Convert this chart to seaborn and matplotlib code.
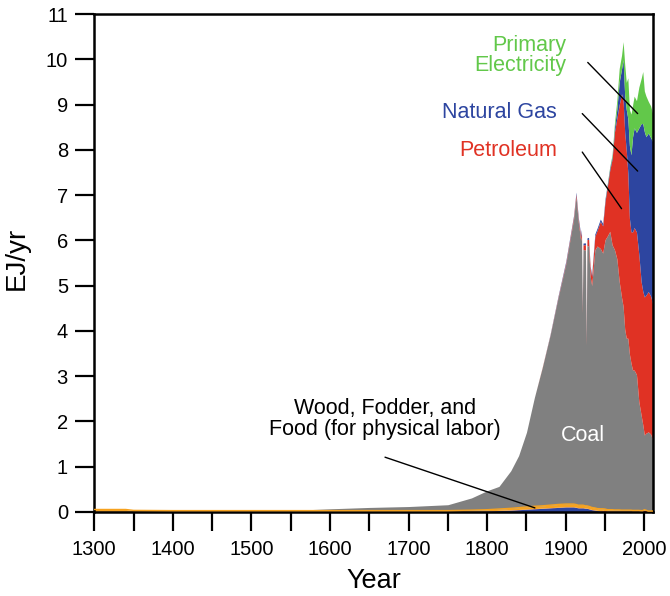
import numpy as np
import pandas as pd
import matplotlib
matplotlib.use("Agg")
import matplotlib.pyplot as plt
import seaborn as sns
from matplotlib.ticker import MultipleLocator

# ---------------- data (EJ/yr) ----------------
years = [1300, 1340, 1350, 1400, 1450, 1500, 1550, 1600, 1650, 1700,
         1750, 1780, 1800, 1815, 1830, 1840, 1850, 1860, 1870, 1880,
         1890, 1900, 1905, 1910, 1913, 1916, 1919, 1920, 1921, 1922,
         1925, 1926, 1927, 1929, 1931, 1933, 1937, 1940, 1944, 1947,
         1950, 1953, 1956, 1959, 1962, 1965, 1968, 1971, 1973, 1975,
         1977, 1979, 1981, 1983, 1985, 1987, 1990, 1993, 1996, 1998,
         2000, 2002, 2005, 2008, 2011]

fodder = [0.01, 0.01, 0.01, 0.01, 0.01, 0.01, 0.01, 0.01, 0.01, 0.01,
          0.01, 0.015, 0.02, 0.03, 0.04, 0.05, 0.06, 0.07, 0.08, 0.09,
          0.10, 0.11, 0.11, 0.11, 0.10, 0.09, 0.09, 0.09, 0.09, 0.09,
          0.08, 0.08, 0.08, 0.07, 0.06, 0.05, 0.04, 0.03, 0.02, 0.02,
          0.01, 0, 0, 0, 0, 0, 0, 0, 0, 0,
          0, 0, 0, 0, 0, 0, 0, 0, 0, 0,
          0, 0, 0, 0, 0]

wood = [0.005, 0.005, 0.005, 0.005, 0.005, 0.005, 0.005, 0.005, 0.005, 0.005,
        0.005, 0.005, 0.005, 0.005, 0.005, 0.005, 0.005, 0.005, 0.005, 0.005,
        0.005, 0.005, 0.005, 0.005, 0.005, 0.005, 0.005, 0.005, 0.005, 0.005,
        0.005, 0.005, 0.005, 0.005, 0.005, 0.005, 0.005, 0.005, 0.01, 0.015,
        0.02, 0.02, 0.02, 0.02, 0.02, 0.02, 0.02, 0.02, 0.02, 0.02,
        0.02, 0.02, 0.02, 0.02, 0.02, 0.02, 0.02, 0.02, 0.02, 0.02,
        0.04, 0.03, 0.01, 0.01, 0.01]

food = [0.04, 0.04, 0.02, 0.015, 0.015, 0.015, 0.015, 0.015, 0.015, 0.015,
        0.015, 0.02, 0.025, 0.03, 0.035, 0.04, 0.045, 0.05, 0.05, 0.055,
        0.06, 0.06, 0.06, 0.06, 0.06, 0.055, 0.055, 0.055, 0.055, 0.055,
        0.05, 0.05, 0.05, 0.05, 0.05, 0.045, 0.045, 0.04, 0.04, 0.035,
        0.035, 0.03, 0.03, 0.03, 0.025, 0.025, 0.025, 0.02, 0.02, 0.02,
        0.02, 0.02, 0.02, 0.02, 0.015, 0.015, 0.015, 0.015, 0.01, 0.01,
        0.01, 0.01, 0.01, 0.01, 0.01]

coal = [0, 0, 0, 0, 0, 0, 0.005, 0.04, 0.07, 0.09,
        0.13, 0.27, 0.42, 0.5, 0.83, 1.15, 1.65, 2.4, 3.05, 3.75,
        4.55, 5.3, 5.8, 6.3, 6.8, 6.25, 5.85, 5.95, 4.25, 5.65,
        5.65, 3.55, 5.75, 5.75, 5.1, 4.9, 5.7, 5.8, 5.75, 5.65,
        5.95, 6.05, 6.15, 5.85, 5.75, 5.55, 5.05, 4.7, 4.5, 4.0,
        3.8, 3.8, 3.45, 3.25, 3.1, 3.1, 3.0, 2.4, 2.1, 1.9,
        1.65, 1.7, 1.75, 1.7, 1.55]

petroleum = [0, 0, 0, 0, 0, 0, 0, 0, 0, 0,
             0, 0, 0, 0, 0, 0, 0, 0, 0.01, 0.01,
             0.02, 0.03, 0.04, 0.05, 0.06, 0.06, 0.08, 0.1, 0.1, 0.1,
             0.12, 0.13, 0.13, 0.15, 0.18, 0.2, 0.3, 0.35, 0.6, 0.6,
             0.85, 1.1, 1.35, 1.9, 2.6, 3.1, 3.9, 4.5, 4.55, 4.35,
             4.15, 3.65, 3.0, 2.9, 3.05, 3.15, 3.15, 3.25, 2.95, 2.95,
             3.05, 3.05, 3.1, 3.05, 3.0]

natural_gas = [0, 0, 0, 0, 0, 0, 0, 0, 0, 0,
               0, 0, 0, 0, 0, 0, 0, 0, 0, 0.01,
               0.02, 0.03, 0.03, 0.03, 0.04, 0.04, 0.04, 0.04, 0.04, 0.04,
               0.04, 0.04, 0.04, 0.04, 0.04, 0.04, 0.05, 0.05, 0.05, 0.05,
               0.05, 0.05, 0.05, 0.05, 0.1, 0.2, 0.5, 0.55, 0.9, 0.8,
               0.9, 1.2, 1.6, 1.7, 2.1, 2.2, 2.2, 2.8, 3.5, 3.7,
               3.65, 3.5, 3.5, 3.5, 3.6]

primary_electricity = [0, 0, 0, 0, 0, 0, 0, 0, 0, 0,
                       0, 0, 0, 0, 0, 0, 0, 0, 0, 0,
                       0, 0, 0, 0, 0, 0, 0, 0, 0, 0,
                       0, 0, 0, 0, 0, 0, 0, 0, 0, 0,
                       0.01, 0.02, 0.03, 0.05, 0.1, 0.2, 0.3, 0.3, 0.4, 0.7,
                       0.6, 0.9, 0.8, 0.9, 0.7, 0.7, 0.7, 0.9, 1.0, 1.15,
                       0.9, 0.9, 0.7, 0.7, 0.6]

x_tick_labels = ["1300", "1400", "1500", "1600", "1700", "1800", "1900", "2000"]
y_tick_labels = [str(v) for v in range(0, 12)]

# ---------------- styling ----------------
sns.set_theme(style="ticks")
plt.rcParams["font.family"] = ["Liberation Sans", "DejaVu Sans"]

C_GRAY = "#808080"
C_RED = "#e03224"
C_BLUE = "#2d45a0"
C_GREEN = "#62c84a"
C_ORANGE = "#f6a21f"
C_DKRED = "#b8322a"

df = pd.DataFrame({"year": years, "fodder": fodder, "wood": wood, "food": food,
                   "coal": coal, "petroleum": petroleum, "gas": natural_gas,
                   "elec": primary_electricity})

fig = plt.figure(figsize=(6.70, 5.96), dpi=100)
ax = fig.add_axes([0.1407, 0.141, 0.9746 - 0.1407, 0.9765 - 0.141])

layers = ["fodder", "wood", "food", "coal", "petroleum", "gas", "elec"]
colors = [C_BLUE, C_DKRED, C_ORANGE, C_GRAY, C_RED, C_BLUE, C_GREEN]
ax.stackplot(df["year"], *[df[c] for c in layers], colors=colors,
             linewidth=0, zorder=2)

# orange edge line on top of the human/animal energy band
df["base_top"] = df["fodder"] + df["wood"] + df["food"]
sns.lineplot(data=df, x="year", y="base_top", color=C_ORANGE, linewidth=1.0,
             ax=ax, zorder=3)

ax.set_xlim(1300, 2011)
ax.set_ylim(0, 11)
ax.set_xticks([int(t) for t in x_tick_labels])
ax.set_xticklabels(x_tick_labels)
ax.xaxis.set_minor_locator(MultipleLocator(50))
ax.set_yticks(range(0, 12))
ax.set_yticklabels(y_tick_labels)

for side in ["left", "bottom", "top", "right"]:
    ax.spines[side].set_visible(True)
    ax.spines[side].set_linewidth(1.8)
    ax.spines[side].set_color("black")
ax.tick_params(axis="both", which="both", direction="out", length=14,
               width=1.6, color="black", labelsize=14.5, labelcolor="black",
               top=False, right=False)
ax.tick_params(axis="x", which="both", pad=6)
ax.tick_params(axis="y", which="both", pad=5)
ax.set_xlabel("Year", fontsize=19.5, labelpad=7, color="black")
ax.set_ylabel("EJ/yr", fontsize=20, color="black")
ax.yaxis.set_label_coords(-0.116, 0.51)
ax.grid(False)

# ---------------- annotations ----------------
FS = 15.5
ax.text(1901, 10.08, "Primary\nElectricity", color=C_GREEN, fontsize=FS,
        ha="right", va="center", linespacing=0.95, zorder=5)
ax.text(1888.6, 8.83, "Natural Gas", color=C_BLUE, fontsize=FS,
        ha="right", va="center", zorder=5)
ax.text(1888.6, 7.99, "Petroleum", color=C_RED, fontsize=FS,
        ha="right", va="center", zorder=5)
ax.text(1921.5, 1.7, "Coal", color="white", fontsize=FS,
        ha="center", va="center", zorder=5)
ax.text(1670, 2.05, "Wood, Fodder, and\nFood (for physical labor)", color="black",
        fontsize=FS, ha="center", va="center", linespacing=1.0, zorder=5)

for (x0, y0, x1, y1) in [(1928, 9.93, 1991.5, 8.80),
                         (1921, 8.80, 1991.5, 7.53),
                         (1921, 7.95, 1971, 6.70),
                         (1670, 1.21, 1860.7, 0.09)]:
    ax.plot([x0, x1], [y0, y1], color="black", linewidth=1.0, zorder=6)

fig.savefig("out.png", dpi=100, facecolor="white")
